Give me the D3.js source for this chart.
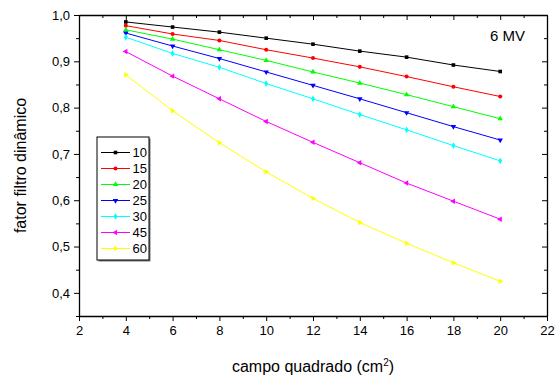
<!DOCTYPE html>
<html>
<head>
<meta charset="utf-8">
<title>fator filtro dinamico</title>
<script src="https://cdn.jsdelivr.net/npm/d3@7"></script>
<style>
  body { margin: 0; background: #fff; }
  svg text { font-family: "Liberation Sans", Arial, sans-serif; fill: #000; }
  .axis path, .axis line { stroke: #000; }
  .axis text { font-size: 13px; }
</style>
</head>
<body>
<script>
// field sizes (cm^2)
const campo = [4, 6, 8, 10, 12, 14, 16, 18, 20];
const serieNames = ["10", "15", "20", "25", "30", "45", "60"];
const s10 = [0.985, 0.974, 0.963, 0.950, 0.937, 0.922, 0.909, 0.892, 0.878];
const s15 = [0.977, 0.959, 0.945, 0.925, 0.907, 0.888, 0.867, 0.845, 0.824];
const s20 = [0.968, 0.948, 0.925, 0.902, 0.877, 0.853, 0.828, 0.802, 0.776];
const s25 = [0.961, 0.933, 0.906, 0.877, 0.848, 0.819, 0.789, 0.759, 0.730];
const s30 = [0.952, 0.917, 0.887, 0.852, 0.819, 0.785, 0.752, 0.718, 0.685];
const s45 = [0.921, 0.868, 0.819, 0.770, 0.725, 0.681, 0.637, 0.598, 0.559];
const s60 = [0.871, 0.793, 0.724, 0.661, 0.604, 0.552, 0.507, 0.465, 0.425];
const xTicks = [2, 4, 6, 8, 10, 12, 14, 16, 18, 20, 22];
const yTicks = [0.4, 0.5, 0.6, 0.7, 0.8, 0.9, 1.0];

const series = [s10, s15, s20, s25, s30, s45, s60];
const colors = ["#000000", "#ff0000", "#00ff00", "#0000ff", "#00ffff", "#ff00ff", "#ffff00"];
// marker shape + rotation (origin style: square, circle, up, down, diamond, left, right)
const symbols = [d3.symbolSquare, d3.symbolCircle, d3.symbolTriangle, d3.symbolTriangle, d3.symbolDiamond, d3.symbolTriangle, d3.symbolTriangle];
const rotations = [0, 0, 0, 180, 0, -90, 90];

const W = 555, H = 378;
const margin = { top: 15, right: 8, bottom: 62, left: 79 };
const width = W - margin.left - margin.right;
const height = H - margin.top - margin.bottom;

const svg = d3.select("body").append("svg")
  .attr("width", W).attr("height", H);
const g = svg.append("g").attr("transform", `translate(${margin.left},${margin.top})`);

const x = d3.scaleLinear().domain([2, 22]).range([0, width]);
const y = d3.scaleLinear().domain([0.35, 1.0]).range([height, 0]);

const fmt = d => d3.format(".1f")(d).replace(".", ",");
const xMinor = d3.range(3, 22, 2);
const yMinor = d3.range(0.35, 1.0, 0.1).map(v => +v.toFixed(2));

// bottom / left (outward ticks with labels)
g.append("g").attr("class", "axis").attr("transform", `translate(0,${height})`)
  .call(d3.axisBottom(x).tickValues(xTicks).tickSize(5).tickPadding(4).tickSizeOuter(0))
  .call(a => a.selectAll("text").attr("dy", "0.75em"));
g.append("g").attr("class", "axis").attr("transform", `translate(0,${height})`)
  .call(d3.axisBottom(x).tickValues(xMinor).tickSize(3).tickFormat("").tickSizeOuter(0))
  .call(a => a.select(".domain").remove());
g.append("g").attr("class", "axis")
  .call(d3.axisLeft(y).tickValues(yTicks).tickFormat(fmt).tickSize(5).tickPadding(4).tickSizeOuter(0));
g.append("g").attr("class", "axis")
  .call(d3.axisLeft(y).tickValues(yMinor).tickSize(3).tickFormat("").tickSizeOuter(0))
  .call(a => a.select(".domain").remove());

// top / right (inward ticks)
g.append("g").attr("class", "axis")
  .call(d3.axisBottom(x).tickValues(xTicks).tickSize(5).tickFormat("").tickSizeOuter(0));
g.append("g").attr("class", "axis")
  .call(d3.axisBottom(x).tickValues(xMinor).tickSize(3).tickFormat("").tickSizeOuter(0))
  .call(a => a.select(".domain").remove());
g.append("g").attr("class", "axis").attr("transform", `translate(${width},0)`)
  .call(d3.axisLeft(y).tickValues(yTicks).tickSize(5).tickFormat("").tickSizeOuter(0));
g.append("g").attr("class", "axis").attr("transform", `translate(${width},0)`)
  .call(d3.axisLeft(y).tickValues(yMinor).tickSize(3).tickFormat("").tickSizeOuter(0))
  .call(a => a.select(".domain").remove());
g.selectAll(".axis .domain").attr("stroke-width", 1.3);

const line = d3.line().x((d, i) => x(campo[i])).y(d => y(d));

function marker(sel, k) {
  sel.append("path").attr("d", d3.symbol(symbols[k], 13)())
    .attr("transform", `rotate(${rotations[k]})`)
    .attr("fill", colors[k]);
}

series.forEach((s, k) => {
  g.append("path").datum(s)
    .attr("fill", "none").attr("stroke", colors[k]).attr("stroke-width", 1)
    .attr("d", line);
  g.selectAll(null).data(s).join("g")
    .attr("transform", (d, i) => `translate(${x(campo[i])},${y(d)})`)
    .each(function() { marker(d3.select(this), k); });
});

// legend
const leg = svg.append("g").attr("transform", "translate(97,137)");
leg.append("rect").attr("x", 1.5).attr("y", 1.5).attr("width", 52).attr("height", 123).attr("fill", "#777");
leg.append("rect").attr("x", 0).attr("y", 0).attr("width", 52).attr("height", 123)
  .attr("fill", "#fff").attr("stroke", "#000").attr("stroke-width", 1);
serieNames.forEach((n, k) => {
  const yy = 15.5 + k * 16;
  leg.append("line").attr("x1", 4).attr("x2", 33).attr("y1", yy).attr("y2", yy)
    .attr("stroke", colors[k]).attr("stroke-width", 1);
  marker(leg.append("g").attr("transform", `translate(18.5,${yy})`), k);
  leg.append("text").attr("x", 35.5).attr("y", yy).attr("dy", "0.36em")
    .style("font-size", "13px").text(n);
});

// annotations and titles
svg.append("text").attr("x", 490).attr("y", 41).style("font-size", "15px").text("6 MV");
const xt = svg.append("text").attr("x", margin.left + width / 2).attr("y", 372)
  .attr("text-anchor", "middle").style("font-size", "16px");
xt.append("tspan").text("campo quadrado (cm");
xt.append("tspan").attr("dy", "-6").style("font-size", "10px").text("2");
xt.append("tspan").attr("dy", "6").text(")");
svg.append("text")
  .attr("transform", `translate(26,${margin.top + height / 2}) rotate(-90)`)
  .attr("text-anchor", "middle").style("font-size", "16px")
  .text("fator filtro dinâmico");
</script>
</body>
</html>
